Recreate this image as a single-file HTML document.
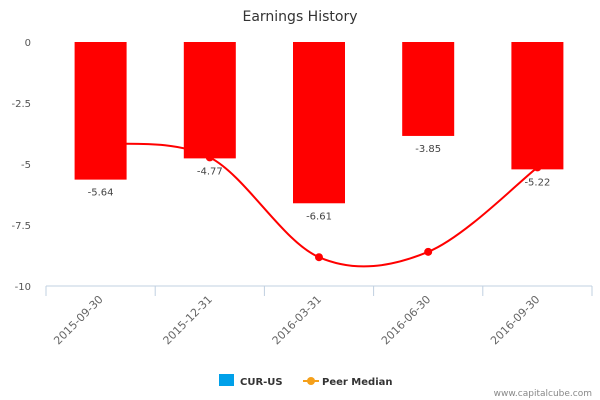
<!DOCTYPE html>
<html><head><meta charset="utf-8"><style>
body{margin:0;background:#fff}
svg{font-family:"DejaVu Sans","Liberation Sans",sans-serif;display:block}
</style></head><body>
<svg id="chart" width="600" height="400" viewBox="0 0 600 400">
<text x="300" y="21" text-anchor="middle" font-size="14" fill="#333">Earnings History</text>
<g id="grid"></g><g id="bars"></g><g id="line"></g><g id="labels"></g>
<g>
<g><rect x="219" y="374" width="15" height="12" fill="#00a0e9"/><text x="240" y="385" font-size="10" font-weight="bold" fill="#333">CUR-US</text></g>
<g><line x1="303" y1="381" x2="319" y2="381" stroke="#f5a01a" stroke-width="2"/><circle cx="311" cy="381" r="4" fill="#f5a01a"/><text x="322" y="385" font-size="10" font-weight="bold" fill="#333">Peer Median</text></g>
</g>
<text x="592" y="396" text-anchor="end" font-size="9" fill="#888">www.capitalcube.com</text>
</svg>
<script>
const categories=["2015-09-30","2015-12-31","2016-03-31","2016-06-30","2016-09-30"];
const earnings=[-5.64,-4.77,-6.61,-3.85,-5.22];
const peerMedian=[-4.15,-4.73,-8.82,-8.6,-5.14];
const yTicks=[0,-2.5,-5,-7.5,-10];
const tickLabels=["0","-2.5","-5","-7.5","-10"];
const NS="http://www.w3.org/2000/svg";
const x0=46,x1=592,yTop=42,yBot=286;
const band=(x1-x0)/categories.length;
const xc=i=>x0+band*(i+0.5);
const y=v=>yTop+(0-v)/10*(yBot-yTop);
function mk(tag,attrs,parent){const e=document.createElementNS(NS,tag);for(const k in attrs)e.setAttribute(k,attrs[k]);parent.appendChild(e);return e;}
const grid=document.getElementById('grid'),bars=document.getElementById('bars'),line=document.getElementById('line'),labels=document.getElementById('labels');
yTicks.forEach((t,i)=>{const tx=mk('text',{x:31,y:y(t)+4,'text-anchor':'end','font-size':10,fill:'#555'},grid);tx.textContent=tickLabels[i];

});
const ax=mk('line',{x1:x0,y1:yBot,x2:x1,y2:yBot,stroke:'#c0d0e0'},grid);


for(let i=0;i<=categories.length;i++){const tk=mk('line',{x1:x0+band*i,y1:yBot,x2:x0+band*i,y2:yBot+10,stroke:'#c0d0e0'},grid);

}
categories.forEach((c,i)=>{const cx=xc(i)+3,cy=yBot+14;
const t=mk('text',{x:cx,y:cy,'text-anchor':'end','font-size':11,fill:'#666',transform:`rotate(-45 ${cx} ${cy})`},labels);t.textContent=c;


const b=mk('rect',{x:xc(i)-26,y:y(0),width:52,height:y(earnings[i])-y(0),fill:'#ff0000'},bars);


const v=mk('text',{x:xc(i),y:y(earnings[i])+16,'text-anchor':'middle','font-size':10,fill:'#444'},labels);v.textContent=earnings[i].toFixed(2);

});
const pts=peerMedian.map((v,i)=>[xc(i),y(v)]);
let d=`M${pts[0][0]},${pts[0][1]}`;
for(let i=0;i<pts.length-1;i++){const p0=pts[Math.max(i-1,0)],p1=pts[i],p2=pts[i+1],p3=pts[Math.min(i+2,pts.length-1)];
const c1=[p1[0]+(p2[0]-p0[0])/6,p1[1]+(p2[1]-p0[1])/6],c2=[p2[0]-(p3[0]-p1[0])/6,p2[1]-(p3[1]-p1[1])/6];
d+=` C${c1[0]},${c1[1]} ${c2[0]},${c2[1]} ${p2[0]},${p2[1]}`;}
const pl=mk('path',{d:d,fill:'none',stroke:'#ff0000','stroke-width':2},line);


pts.forEach(p=>{const m=mk('circle',{cx:p[0],cy:p[1],r:4,fill:'#ff0000'},line);

});
bars.parentNode.insertBefore(line,bars);
</script>
</body></html>
